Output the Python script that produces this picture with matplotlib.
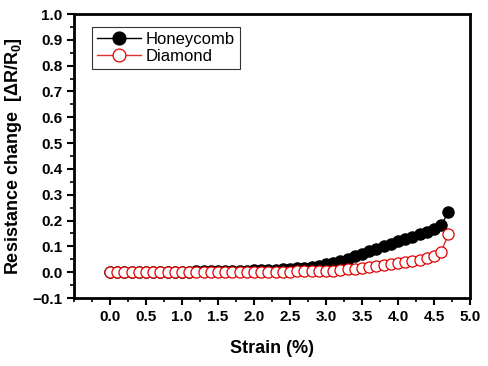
import matplotlib.pyplot as plt
from matplotlib.ticker import MultipleLocator

plt.rcParams['font.family'] = ['Liberation Sans', 'DejaVu Sans']
plt.rcParams['mathtext.fontset'] = 'custom'
plt.rcParams['mathtext.rm'] = 'Liberation Sans:bold'
plt.rcParams['mathtext.bf'] = 'Liberation Sans:bold'
plt.rcParams['mathtext.default'] = 'bf'

strain = [0.0, 0.1, 0.2, 0.3, 0.4, 0.5, 0.6, 0.7, 0.8, 0.9,
          1.0, 1.1, 1.2, 1.3, 1.4, 1.5, 1.6, 1.7, 1.8, 1.9,
          2.0, 2.1, 2.2, 2.3, 2.4, 2.5, 2.6, 2.7, 2.8, 2.9,
          3.0, 3.1, 3.2, 3.3, 3.4, 3.5, 3.6, 3.7, 3.8, 3.9,
          4.0, 4.1, 4.2, 4.3, 4.4, 4.5, 4.6, 4.7]
honeycomb = [0.000, 0.000, 0.000, 0.000, 0.001, 0.001, 0.002, 0.002, 0.002, 0.002,
             0.002, 0.002, 0.003, 0.003, 0.003, 0.003, 0.004, 0.004, 0.005, 0.006,
             0.007, 0.008, 0.009, 0.010, 0.011, 0.013, 0.015, 0.018, 0.021, 0.025,
             0.030, 0.036, 0.043, 0.052, 0.061, 0.072, 0.082, 0.091, 0.100, 0.110,
             0.120, 0.128, 0.137, 0.146, 0.157, 0.168, 0.183, 0.232]
diamond = [0.000, 0.000, 0.000, 0.000, 0.000, 0.000, 0.000, 0.000, 0.000, 0.000,
           0.000, 0.000, 0.000, 0.000, 0.000, 0.000, 0.001, 0.001, 0.001, 0.001,
           0.001, 0.001, 0.002, 0.002, 0.002, 0.002, 0.003, 0.003, 0.003, 0.004,
           0.005, 0.006, 0.008, 0.011, 0.014, 0.018, 0.021, 0.024, 0.027, 0.030,
           0.034, 0.038, 0.043, 0.048, 0.055, 0.062, 0.080, 0.147]

fig = plt.figure(figsize=(4.88, 3.66), dpi=100)
ax = fig.add_axes([74 / 488, 1 - 298 / 366, 396 / 488, 284 / 366])

ax.plot(strain, honeycomb, '-o', color='black', markerfacecolor='black',
        markeredgecolor='black', markersize=8, linewidth=1, label='Honeycomb')
ax.plot(strain, diamond, '-o', color='#e03030', markerfacecolor='white',
        markeredgecolor='#e00000', markersize=8, markeredgewidth=0.9,
        linewidth=1, label='Diamond')

ax.set_xlim(-0.5, 5.0)
ax.set_ylim(-0.1, 1.0)
ax.set_xticks([0.0, 0.5, 1.0, 1.5, 2.0, 2.5, 3.0, 3.5, 4.0, 4.5, 5.0])
ax.set_yticks([-0.1, 0.0, 0.1, 0.2, 0.3, 0.4, 0.5, 0.6, 0.7, 0.8, 0.9, 1.0])
ax.xaxis.set_minor_locator(MultipleLocator(0.25))
ax.yaxis.set_minor_locator(MultipleLocator(0.05))
ax.tick_params(which='major', direction='out', length=5, width=1.5, labelsize=11)
ax.tick_params(which='minor', direction='out', length=3, width=1.2)
for lab in ax.get_xticklabels() + ax.get_yticklabels():
    lab.set_fontweight('bold')
for sp in ax.spines.values():
    sp.set_linewidth(2)

ax.set_xlabel('Strain (%)', fontsize=13, fontweight='bold', labelpad=12)
ax.set_ylabel('Resistance change  [ΔR/R$_0$]', fontsize=13,
              fontweight='bold', labelpad=6)

leg = ax.legend(loc='upper left', bbox_to_anchor=(0.025, 0.985), fontsize=12,
                fancybox=False, edgecolor='black', handlelength=2.6,
                borderpad=0.3, labelspacing=0.15, handletextpad=0.3,
                markerscale=1.15)
leg.get_frame().set_linewidth(0.8)

fig.savefig('out.png', dpi=100)
